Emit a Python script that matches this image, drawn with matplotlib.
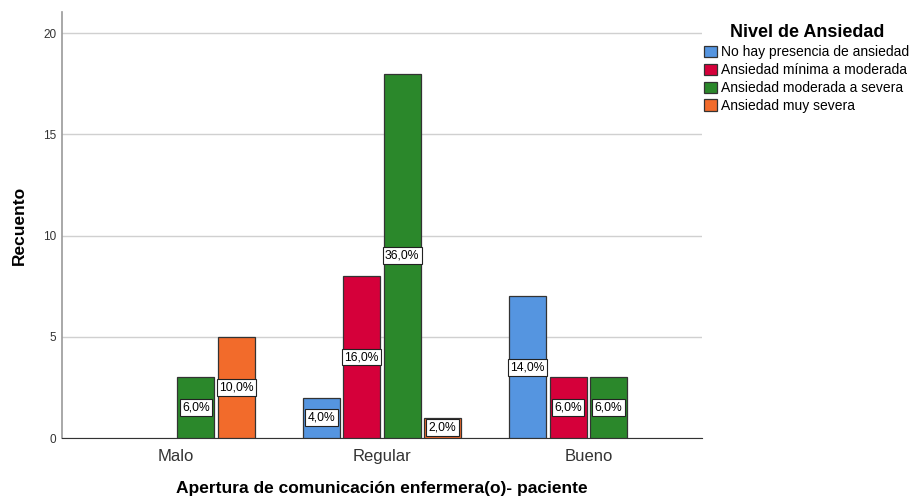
import matplotlib

matplotlib.use("Agg")
import matplotlib.pyplot as plt
import numpy as np
from matplotlib.patches import Patch

plt.rcParams["font.family"] = ["Liberation Sans", "DejaVu Sans"]

categories = ["Malo", "Regular", "Bueno"]
series = [
    "No hay presencia de ansiedad",
    "Ansiedad mínima a moderada",
    "Ansiedad moderada a severa",
    "Ansiedad muy severa",
]
colors = ["#5595E0", "#D5003A", "#2B882B", "#F26B2B"]
# counts per category, one list per anxiety level
no_anxiety = [0, 2, 7]
minimal_moderate = [0, 8, 3]
moderate_severe = [3, 18, 3]
very_severe = [5, 1, 0]
counts = [no_anxiety, minimal_moderate, moderate_severe, very_severe]
total = 50

fig = plt.figure(figsize=(9.17, 4.97), dpi=100)
ax = fig.add_axes([0.0676, 0.1187, 0.6979, 0.8572])

x = np.arange(len(categories))
step, width = 0.196, 0.179
for i, (vals, col) in enumerate(zip(counts, colors)):
    off = (i - 1.5) * step
    for xi, v in zip(x, vals):
        if v == 0:
            continue
        ax.bar(xi + off, v, width, color=col, edgecolor="#333333", linewidth=0.9, zorder=3)
        pct = f"{v / total * 100:.1f}%".replace(".", ",")
        ax.text(xi + off, v / 2, pct, ha="center", va="center", fontsize=8.7, zorder=4,
                bbox=dict(boxstyle="square,pad=0.2", fc="white", ec="#222222", lw=0.8))

ax.set_xlim(-0.55, 2.55)
ax.set_ylim(0, 21.04)
ax.set_yticks([0, 5, 10, 15, 20])
ax.set_xticks(x)
ax.set_xticklabels(categories, fontsize=12, color="#333333")
ax.tick_params(axis="y", length=0, pad=4, labelsize=8.5, labelcolor="#333333")
ax.tick_params(axis="x", length=0, pad=8)
ax.grid(axis="y", color="#D0D0D0", linewidth=1, zorder=0)
for side in ("top", "right"):
    ax.spines[side].set_visible(False)
ax.spines["left"].set_color("#999999")
ax.spines["left"].set_linewidth(1.2)
ax.spines["bottom"].set_color("#333333")

ax.set_ylabel("Recuento", fontsize=12.5, fontweight="bold", labelpad=12)
ax.set_xlabel("Apertura de comunicación enfermera(o)- paciente", fontsize=12.5,
              fontweight="bold", labelpad=12)

handles = [Patch(facecolor=c, edgecolor="#333333", linewidth=0.9, label=s)
           for s, c in zip(series, colors)]
leg = fig.legend(handles=handles, title="Nivel de Ansiedad", loc="upper left",
                 bbox_to_anchor=(0.762, 0.962), frameon=False, fontsize=10,
                 handlelength=0.9, handleheight=0.9, handletextpad=0.3,
                 labelspacing=0.28, borderaxespad=0)
leg.get_title().set_fontweight("bold")
leg.get_title().set_fontsize(13)

fig.savefig("out.png", dpi=100)
